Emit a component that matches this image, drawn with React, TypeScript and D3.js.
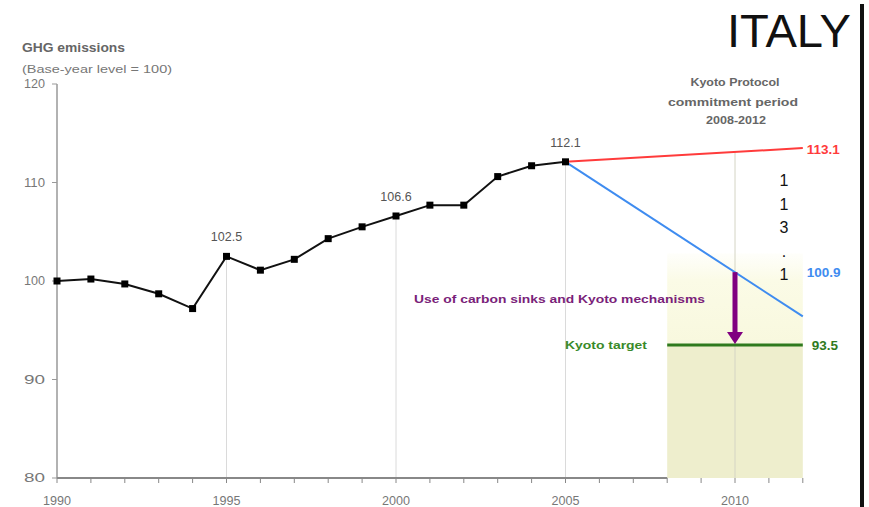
import React from 'react';
import * as d3 from 'd3';

const years = [1990, 1991, 1992, 1993, 1994, 1995, 1996, 1997, 1998, 1999, 2000, 2001, 2002, 2003, 2004, 2005];
const emissions = [100, 100.2, 99.7, 98.7, 97.2, 102.5, 101.1, 102.2, 104.3, 105.5, 106.6, 107.7, 107.7, 110.6, 111.7, 112.1];
const labelledYears = [1995, 2000, 2005];
const yTicks = [80, 90, 100, 110, 120];
const xTickLabels = [1990, 1995, 2000, 2005, 2010];
const trendYears = [2005, 2012];
const trendRed = [112.1, 113.5];
const trendBlue = [112.1, 96.4];
const kyotoPeriod = [2008, 2012];
const kyotoTarget = 93.5;
const value2010 = { red: 113.1, blue: 100.9 };
const stackedDigits = ['1', '1', '3', '.', '1'];

const W = 869;
const H = 507;

const App: React.FC = () => {
  const x = d3.scaleLinear().domain([1990, 2010]).range([57, 735]);
  const y = d3.scaleLinear().domain([80, 120]).range([478, 84]);

  const line = d3.line<[number, number]>()
    .x(d => x(d[0]))
    .y(d => y(d[1]));

  const hist = years.map((yr, i) => [yr, emissions[i]] as [number, number]);
  const red = trendYears.map((yr, i) => [yr, trendRed[i]] as [number, number]);
  const blue = trendYears.map((yr, i) => [yr, trendBlue[i]] as [number, number]);
  const allTicks = d3.range(1990, 2013);

  const grey = '#777';
  const font = 'Liberation Sans, Arial, sans-serif';
  const stretch = 'spacingAndGlyphs';
  const kx0 = x(kyotoPeriod[0]);
  const kw = x(kyotoPeriod[1]) - kx0;
  const ax = x(2010);
  const ty = y(kyotoTarget);

  return (
    <svg width={W} height={H} style={{ position: 'absolute', left: 0, top: 0, background: '#fff' }} fontFamily={font}>
      <defs>
        <linearGradient id="kyotoTop" x1="0" y1="0" x2="0" y2="1">
          <stop offset="0" stopColor="#fbfbe9" stopOpacity={0.2} />
          <stop offset="0.3" stopColor="#fbfbe6" stopOpacity={1} />
          <stop offset="1" stopColor="#f8f8de" stopOpacity={1} />
        </linearGradient>
      </defs>

      {/* kyoto period shading */}
      <rect x={kx0} y={y(102.8)} width={kw} height={ty - y(102.8)} fill="url(#kyotoTop)" />
      <rect x={kx0} y={ty} width={kw} height={y(80) - ty} fill="#eeeecd" />

      {/* vertical guide lines */}
      {labelledYears.map(yr => (
        <line key={yr} x1={x(yr)} x2={x(yr)} y1={y(emissions[years.indexOf(yr)])} y2={y(80)}
          stroke="#dadada" strokeWidth={1} />
      ))}
      <line x1={ax} x2={ax} y1={y(value2010.red)} y2={y(80)} stroke="#d4d4c4" strokeWidth={1} />

      {/* titles */}
      <text x={22} y={52} fontSize={12} fontWeight="bold" fill="#666" textLength={103} lengthAdjust={stretch}>GHG emissions</text>
      <text x={22} y={73} fontSize={11.5} fill="#777" textLength={150} lengthAdjust={stretch}>(Base-year level = 100)</text>
      <text x={727} y={47} fontSize={47} fill="#111" textLength={124} lengthAdjust={stretch}>ITALY</text>
      <rect x={860} y={4} width={4} height={H - 4} fill="#111" />

      <text x={735} y={86} fontSize={11} fontWeight="bold" fill="#666" textAnchor="middle" textLength={89} lengthAdjust={stretch}>Kyoto Protocol</text>
      <text x={733} y={106} fontSize={11} fontWeight="bold" fill="#666" textAnchor="middle" textLength={130} lengthAdjust={stretch}>commitment period</text>
      <text x={736} y={124} fontSize={11} fontWeight="bold" fill="#666" textAnchor="middle" textLength={60} lengthAdjust={stretch}>2008-2012</text>

      {/* y axis */}
      <line x1={x(1990)} x2={x(1990)} y1={y(120)} y2={y(80)} stroke="#999" strokeWidth={1.5} />
      {yTicks.map(t => (
        <g key={t}>
          <line x1={x(1990) - 5} x2={x(1990)} y1={y(t)} y2={y(t)} stroke="#999" />
          <text x={x(1990) - 12} y={y(t) + 4} fontSize={12} fill={grey} textAnchor="end" textLength={21} lengthAdjust={stretch}>{t}</text>
        </g>
      ))}

      {/* x axis */}
      <line x1={x(1990)} x2={kx0} y1={y(80)} y2={y(80)} stroke="#888" strokeWidth={2} />
      {allTicks.map(t => (
        <line key={t} x1={x(t)} x2={x(t)} y1={y(80)} y2={y(80) + 5} stroke="#888" />
      ))}
      {xTickLabels.map(t => (
        <text key={t} x={x(t)} y={y(80) + 27} fontSize={12} fill={grey} textAnchor="middle" textLength={28} lengthAdjust={stretch}>{t}</text>
      ))}

      {/* projections */}
      <path d={line(red) ?? ''} fill="none" stroke="#ff3b3b" strokeWidth={2} />
      <path d={line(blue) ?? ''} fill="none" stroke="#3f8cf0" strokeWidth={2} />

      {/* kyoto target */}
      <line x1={kx0} x2={x(kyotoPeriod[1])} y1={ty} y2={ty} stroke="#2f7a1e" strokeWidth={3} />
      <text x={565} y={ty + 4} fontSize={11} fontWeight="bold" fill="#3a8a2a" textLength={82} lengthAdjust={stretch}>Kyoto target</text>

      {/* arrow */}
      <line x1={ax} x2={ax} y1={y(value2010.blue)} y2={ty - 12} stroke="#800080" strokeWidth={5} />
      <path d={`M${ax - 8},${ty - 13} L${ax + 8},${ty - 13} L${ax},${ty - 1} Z`} fill="#800080" />
      <text x={414} y={y(97.8)} fontSize={11.5} fontWeight="bold" fill="#7a1f7a" textLength={291} lengthAdjust={stretch}>Use of carbon sinks and Kyoto mechanisms</text>

      {/* historic series */}
      <path d={line(hist) ?? ''} fill="none" stroke="#111" strokeWidth={2} />
      {hist.map(d => (
        <rect key={d[0]} x={x(d[0]) - 3.5} y={y(d[1]) - 3.5} width={7} height={7} fill="#000" />
      ))}
      {labelledYears.map(yr => (
        <text key={yr} x={x(yr)} y={y(emissions[years.indexOf(yr)]) - 15} fontSize={12.5} fill="#555" textAnchor="middle">
          {emissions[years.indexOf(yr)].toFixed(1)}
        </text>
      ))}

      {/* end labels */}
      <text x={x(2012) + 4} y={y(trendRed[1]) + 6} fontSize={13.5} fontWeight="bold" fill="#ff3b3b">{value2010.red}</text>
      <text x={x(2012) + 4} y={y(value2010.blue) + 5} fontSize={13.5} fontWeight="bold" fill="#3f8cf0">{value2010.blue}</text>
      <text x={x(2012) + 9} y={ty + 5} fontSize={13.5} fontWeight="bold" fill="#2f7a1e">{kyotoTarget}</text>

      {stackedDigits.map((c, i) => (
        <text key={i} x={784} y={186 + i * 23.5} fontSize={16} fill="#111" textAnchor="middle">{c}</text>
      ))}
    </svg>
  );
};

export default App;
